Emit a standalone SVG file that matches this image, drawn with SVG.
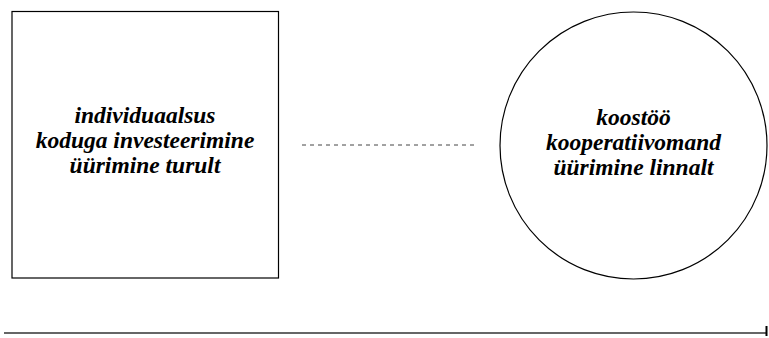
<svg xmlns="http://www.w3.org/2000/svg" width="769" height="338" viewBox="0 0 769 338">
  <style>
    .shape { fill: #ffffff; stroke: #000000; stroke-width: 1.2; }
    .label { font-family: "Liberation Serif", "Times New Roman", serif; font-size: 23.5px; font-weight: bold; font-style: italic; fill: #000000; text-anchor: middle; }
    .dashed { stroke: #444444; stroke-width: 1; stroke-dasharray: 4,4; fill: none; }
    .axis { stroke: #333333; stroke-width: 1.5; fill: none; }
  </style>
  <rect width="769" height="338" fill="#ffffff"/>
  <g id="node-individual">
    <rect class="shape" x="12" y="11.5" width="266.5" height="266.5"/>
    <text class="label" x="145" y="123">individuaalsus</text>
    <text class="label" x="145" y="148">koduga investeerimine</text>
    <text class="label" x="145" y="173">üürimine turult</text>
  </g>
  <g id="node-cooperative">
    <circle class="shape" cx="633.5" cy="145.5" r="133.5"/>
    <text class="label" x="633.5" y="125">koostöö</text>
    <text class="label" x="633.5" y="150">kooperatiivomand</text>
    <text class="label" x="633.5" y="175">üürimine linnalt</text>
  </g>
  <g id="connectors">
    <line class="dashed" x1="302" y1="145" x2="476" y2="145"/>
    <line class="axis" x1="4" y1="333" x2="766" y2="333"/>
    <line x1="766.5" y1="326" x2="766.5" y2="336" stroke="#000000" stroke-width="2"/>
  </g>
</svg>
